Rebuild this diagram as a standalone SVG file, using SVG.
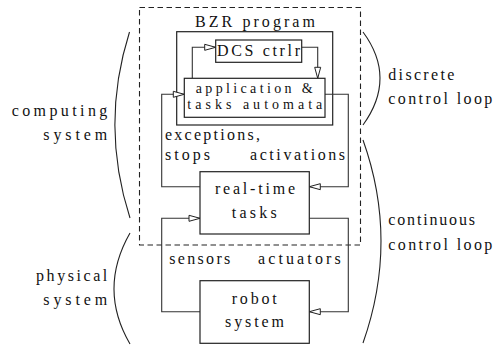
<svg xmlns="http://www.w3.org/2000/svg" width="494" height="347" viewBox="0 0 494 347">
<defs>
<style>
text{font-family:"Liberation Serif","Times New Roman",Times,"Noto Serif","DejaVu Serif",serif;font-size:16px;fill:#111;}
.sm{font-size:14px;}
.box{fill:#fff;stroke:#222;stroke-width:1.2;}
.conn{fill:none;stroke:#333;stroke-width:1.1;}
.brace{fill:none;stroke:#222;stroke-width:1.1;}
.dash{fill:none;stroke:#222;stroke-width:1.1;stroke-dasharray:5.5 3.5;}
</style>
<marker id="ah" markerUnits="userSpaceOnUse" markerWidth="13" markerHeight="8" refX="12" refY="4" orient="auto">
<path d="M1,1 L12,4 L1,7 Z" fill="#fff" stroke="#222" stroke-width="1"/>
</marker>
</defs>
<rect width="494" height="347" fill="#fff"/>
<g id="computing-region">
<rect class="dash" x="139.5" y="7.5" width="221" height="237.5"/>
</g>
<g id="bzr-program">
<rect class="box" x="176.7" y="31.7" width="156" height="93.3"/>
<text x="195" y="26.5" textLength="120" lengthAdjust="spacing">BZR program</text>
</g>
<g id="connectors">
<path class="conn" d="M192.3,78.3 V47.3 H215.7" marker-end="url(#ah)"/>
<path class="conn" d="M301.7,47.3 H317.7 V78.3" marker-end="url(#ah)"/>
<path class="conn" d="M200,186.7 H161.7 V94.3 H184.3" marker-end="url(#ah)"/>
<path class="conn" d="M325,94.3 H348.3 V186.7 H309.3" marker-end="url(#ah)"/>
<path class="conn" d="M200,311.7 H161.7 V218.3 H200" marker-end="url(#ah)"/>
<path class="conn" d="M309.3,218.3 H348.3 V311.7 H309.3" marker-end="url(#ah)"/>
</g>
<g id="dcs-ctrlr">
<rect class="box" x="215.7" y="40" width="86" height="22.3"/>
<text x="217" y="56" textLength="83" lengthAdjust="spacing">DCS ctrlr</text>
</g>
<g id="application">
<rect class="box" x="184.3" y="78.3" width="140.7" height="39"/>
<text class="sm" x="195.7" y="93" textLength="117" lengthAdjust="spacing">application &amp;</text>
<text class="sm" x="187.3" y="109" textLength="135" lengthAdjust="spacing">tasks automata</text>
</g>
<g id="real-time-tasks">
<rect class="box" x="200" y="171.7" width="109.3" height="62.3"/>
<text x="215" y="194.3" textLength="80" lengthAdjust="spacing">real-time</text>
<text x="231.7" y="218" textLength="45" lengthAdjust="spacing">tasks</text>
</g>
<g id="robot-system">
<rect class="box" x="200" y="280.7" width="109.3" height="62.6"/>
<text x="231.7" y="304" textLength="45" lengthAdjust="spacing">robot</text>
<text x="225" y="326.5" textLength="59" lengthAdjust="spacing">system</text>
</g>
<g id="labels">
<text x="165" y="140" textLength="95" lengthAdjust="spacing">exceptions,</text>
<text x="165" y="159.5" textLength="45" lengthAdjust="spacing">stops</text>
<text x="250" y="159.5" textLength="95" lengthAdjust="spacing">activations</text>
<text x="169.3" y="264" textLength="61" lengthAdjust="spacing">sensors</text>
<text x="258" y="264" textLength="82.7" lengthAdjust="spacing">actuators</text>
</g>
<g id="computing-system">
<path class="brace" d="M129.5,32 Q100,125 130,218"/>
<text x="11.7" y="116" textLength="95.6" lengthAdjust="spacing">computing</text>
<text x="43.3" y="140" textLength="64" lengthAdjust="spacing">system</text>
</g>
<g id="physical-system">
<path class="brace" d="M130,233 Q98,289 130,344"/>
<text x="36" y="281" textLength="71.3" lengthAdjust="spacing">physical</text>
<text x="43.3" y="305" textLength="64" lengthAdjust="spacing">system</text>
</g>
<g id="discrete-control-loop">
<path class="brace" d="M363,32 Q397,78 363,125"/>
<text x="388.3" y="80" textLength="66" lengthAdjust="spacing">discrete</text>
<text x="388.3" y="104" textLength="104" lengthAdjust="spacing">control loop</text>
</g>
<g id="continuous-control-loop">
<path class="brace" d="M363,140 Q399,241 363,343"/>
<text x="388.3" y="225" textLength="86.7" lengthAdjust="spacing">continuous</text>
<text x="388.3" y="250" textLength="104" lengthAdjust="spacing">control loop</text>
</g>
</svg>
